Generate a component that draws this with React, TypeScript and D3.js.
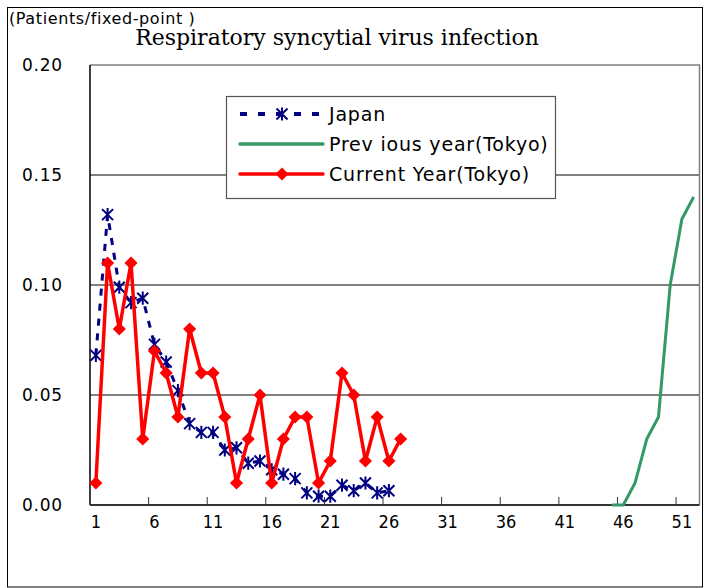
import * as d3 from "d3"
import { useEffect, useRef } from "react"

const weeks = d3.range(1, 53)
const xTickLabels = [1, 6, 11, 16, 21, 26, 31, 36, 41, 46, 51]
const yTicks = [0, 0.05, 0.1, 0.15, 0.2]

// weeks 1..26
const japan = [
  0.068, 0.132, 0.099, 0.092, 0.094, 0.073, 0.065, 0.052, 0.037, 0.033, 0.033,
  0.025, 0.026, 0.019, 0.02, 0.016, 0.014, 0.012, 0.0055, 0.004, 0.004, 0.009,
  0.0065, 0.01, 0.0055, 0.0065,
]
// weeks 1..27
const currentYear = [
  0.01, 0.11, 0.08, 0.11, 0.03, 0.07, 0.06, 0.04, 0.08, 0.06, 0.06, 0.04, 0.01,
  0.03, 0.05, 0.01, 0.03, 0.04, 0.04, 0.01, 0.02, 0.06, 0.05, 0.02, 0.04, 0.02,
  0.03,
]
const previousWeeks = [45, 46, 47, 48, 49, 50, 51, 52]
const previousYear = [0, 0, 0.01, 0.03, 0.04, 0.1, 0.13, 0.14]

const legendItems = [
  { name: "Japan", key: "japan" },
  { name: "Prev ious year(Tokyo)", key: "previous" },
  { name: "Current Year(Tokyo)", key: "current" },
]

const NAVY = "#000080"
const GREEN = "#339966"
const RED = "#ff0000"

const starPath = (r: number) =>
  `M${-r},${-r}L${r},${r}M${-r},${r}L${r},${-r}M0,${-r * 1.2}L0,${r * 1.2}`

export default function App() {
  const svgRef = useRef<SVGSVGElement | null>(null)

  useEffect(() => {
    if (!svgRef.current) return
    const svg = d3.select(svgRef.current)
    svg.selectAll("*").remove()

    const W = 704
    const H = 588
    const left = 90
    const right = 699.5
    const top = 65
    const bottom = 505

    svg.attr("width", W).attr("height", H).attr("viewBox", `0 0 ${W} ${H}`)

    const x = d3
      .scaleBand<number>()
      .domain(weeks)
      .range([left, right])
      .padding(0)
    const cx = (w: number) => x(w)! + x.bandwidth() / 2
    const y = d3.scaleLinear().domain([0, 0.2]).range([bottom, top])

    // outer frame
    svg
      .append("rect")
      .attr("x", 7.5)
      .attr("y", 7.5)
      .attr("width", W - 9)
      .attr("height", H - 8.5)
      .attr("fill", "white")
      .attr("stroke", "#000")
      .attr("stroke-width", 1)

    svg
      .append("text")
      .attr("x", 9)
      .attr("y", 24)
      .style("font", "16px 'DejaVu Sans', sans-serif")
      .style("letter-spacing", "0.6px")
      .attr("fill", "#000")
      .text("(Patients/fixed-point )")

    svg
      .append("text")
      .attr("x", 337)
      .attr("y", 45)
      .attr("text-anchor", "middle")
      .style("font", "22px 'DejaVu Serif', serif")
      .attr("fill", "#000")
      .text("Respiratory syncytial virus infection")

    // gridlines
    svg
      .append("g")
      .selectAll("line")
      .data(yTicks.filter((t) => t > 0 && t < 0.2))
      .enter()
      .append("line")
      .attr("x1", left)
      .attr("x2", right)
      .attr("y1", (d) => y(d))
      .attr("y2", (d) => y(d))
      .attr("stroke", "#000")
      .attr("stroke-width", 1)

    // plot border (top/right gray)
    svg
      .append("path")
      .attr("d", `M${left},${y(0.2)}H${right}V${bottom}`)
      .attr("fill", "none")
      .attr("stroke", "#808080")
      .attr("stroke-width", 1.5)

    // y axis
    svg
      .append("line")
      .attr("x1", left)
      .attr("x2", left)
      .attr("y1", top)
      .attr("y2", bottom)
      .attr("stroke", "#000")
      .attr("stroke-width", 1.5)

    svg
      .append("g")
      .selectAll("text")
      .data(yTicks)
      .enter()
      .append("text")
      .attr("x", 63)
      .attr("y", (d) => y(d) + 6)
      .attr("text-anchor", "end")
      .style("font", "17px 'DejaVu Sans', sans-serif")
      .style("letter-spacing", "0.8px")
      .attr("fill", "#000")
      .text((d) => d3.format(".2f")(d))

    // x axis
    svg
      .append("line")
      .attr("x1", left)
      .attr("x2", right)
      .attr("y1", bottom)
      .attr("y2", bottom)
      .attr("stroke", "#333")
      .attr("stroke-width", 2)

    svg
      .append("g")
      .selectAll("line")
      .data(xTickLabels.slice(1))
      .enter()
      .append("line")
      .attr("x1", (d) => x(d)!)
      .attr("x2", (d) => x(d)!)
      .attr("y1", bottom)
      .attr("y2", bottom - 8)
      .attr("stroke", "#333")
      .attr("stroke-width", 1)

    svg
      .append("g")
      .selectAll("text")
      .data(xTickLabels)
      .enter()
      .append("text")
      .attr("x", (d) => cx(d))
      .attr("y", 528)
      .attr("text-anchor", "middle")
      .style("font", "18px 'DejaVu Sans Condensed', 'DejaVu Sans', sans-serif")
      .attr("fill", "#000")
      .text((d) => String(d))

    const line = d3
      .line<[number, number]>()
      .x((d) => cx(d[0]))
      .y((d) => y(d[1]))

    // previous year (green)
    const prevPts = previousWeeks.map((w, i) => [w, previousYear[i]] as [number, number])
    svg
      .append("path")
      .attr("d", line(prevPts))
      .attr("fill", "none")
      .attr("stroke", GREEN)
      .attr("stroke-width", 3)

    // Japan (navy dashed with stars)
    const japanPts = japan.map((v, i) => [i + 1, v] as [number, number])
    svg
      .append("path")
      .attr("d", line(japanPts))
      .attr("fill", "none")
      .attr("stroke", NAVY)
      .attr("stroke-width", 3)
      .attr("stroke-dasharray", "7,8")

    svg
      .append("g")
      .selectAll("path")
      .data(japanPts)
      .enter()
      .append("path")
      .attr("transform", (d) => `translate(${cx(d[0])},${y(d[1])})`)
      .attr("d", starPath(5.5))
      .attr("stroke", NAVY)
      .attr("stroke-width", 2)
      .attr("fill", "none")

    // current year (red with diamonds)
    const curPts = currentYear.map((v, i) => [i + 1, v] as [number, number])
    svg
      .append("path")
      .attr("d", line(curPts))
      .attr("fill", "none")
      .attr("stroke", RED)
      .attr("stroke-width", 3.5)
      .attr("stroke-linejoin", "round")

    const diamond = d3.symbol().type(d3.symbolDiamond2).size(110)
    svg
      .append("g")
      .selectAll("path")
      .data(curPts)
      .enter()
      .append("path")
      .attr("transform", (d) => `translate(${cx(d[0])},${y(d[1])})`)
      .attr("d", diamond())
      .attr("fill", RED)

    // legend
    const lg = svg.append("g").attr("transform", "translate(226,96)")
    lg.append("rect")
      .attr("x", 0.5)
      .attr("y", 0.5)
      .attr("width", 329)
      .attr("height", 102)
      .attr("fill", "white")
      .attr("stroke", "#555")
      .attr("stroke-width", 1.2)

    legendItems.forEach((item, i) => {
      const ly = 18 + i * 30
      const g = lg.append("g").attr("transform", `translate(0,${ly})`)
      if (item.key === "japan") {
        g.append("line")
          .attr("x1", 14)
          .attr("x2", 97)
          .attr("y1", 0)
          .attr("y2", 0)
          .attr("stroke", NAVY)
          .attr("stroke-width", 4)
          .attr("stroke-dasharray", "7,11")
        g.append("path")
          .attr("transform", "translate(56,0)")
          .attr("d", starPath(5.5))
          .attr("stroke", NAVY)
          .attr("stroke-width", 2)
      } else if (item.key === "previous") {
        g.append("line")
          .attr("x1", 14)
          .attr("x2", 97)
          .attr("y1", 0)
          .attr("y2", 0)
          .attr("stroke", GREEN)
          .attr("stroke-width", 3.5)
          .attr("stroke-linecap", "round")
      } else {
        g.append("line")
          .attr("x1", 14)
          .attr("x2", 97)
          .attr("y1", 0)
          .attr("y2", 0)
          .attr("stroke", RED)
          .attr("stroke-width", 3.5)
          .attr("stroke-linecap", "round")
        g.append("path")
          .attr("transform", "translate(56,0)")
          .attr("d", diamond())
          .attr("fill", RED)
      }
      g.append("text")
        .attr("x", 103)
        .attr("y", 7)
        .style("font", "19px 'DejaVu Sans', sans-serif")
        .style("letter-spacing", "0.8px")
        .attr("fill", "#000")
        .text(item.name)
    })
  }, [])

  return (
    <svg
      ref={svgRef}
      style={{ position: "absolute", left: 0, top: 0, display: "block" }}
    />
  )
}
